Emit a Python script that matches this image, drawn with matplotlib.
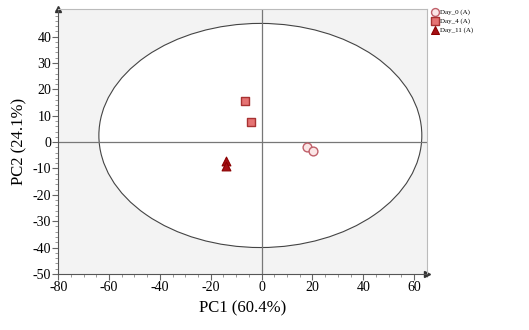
import numpy as np
import matplotlib.pyplot as plt
from matplotlib.patches import Ellipse
from matplotlib.ticker import MultipleLocator

plt.rcParams['font.family'] = ['Liberation Serif', 'DejaVu Serif']
plt.rcParams['axes.unicode_minus'] = False

# PCA scores per sampling day
day0_pc1 = [18.0, 20.4]
day0_pc2 = [-1.9, -3.4]
day4_pc1 = [-6.7, -4.3]
day4_pc2 = [15.6, 7.6]
day11_pc1 = [-14.2, -14.0]
day11_pc2 = [-7.0, -9.2]

labels = ['Day_0 (A)', 'Day_4 (A)', 'Day_11 (A)']

fig = plt.figure(figsize=(5.29, 3.30), dpi=100)
ax = fig.add_axes([0.110, 0.170, 0.697, 0.803])
ax.set_facecolor('#f3f3f3')

# Hotelling T2 ellipse
ell = Ellipse((-0.5, 2.5), 127, 85, facecolor='white', edgecolor='#444444', lw=0.8, zorder=1)
ax.add_patch(ell)
ax.axhline(0, color='#777777', lw=0.9, zorder=2)
ax.axvline(0, color='#777777', lw=0.9, zorder=2)

ax.scatter(day0_pc1, day0_pc2, s=40, marker='o', facecolor='#fbe6e6', edgecolor='#c0606a',
           lw=1.0, zorder=3, label=labels[0])
ax.scatter(day4_pc1, day4_pc2, s=40, marker='s', facecolor='#e57373', edgecolor='#a83232',
           lw=1.0, zorder=3, label=labels[1])
ax.scatter(day11_pc1, day11_pc2, s=40, marker='^', facecolor='#a50f15', edgecolor='#8b0000',
           lw=0.8, zorder=3, label=labels[2])

ax.set_xlim(-80, 65)
ax.set_ylim(-50, 50.5)
ax.set_xticks(np.arange(-80, 61, 20))
ax.set_yticks(np.arange(-50, 41, 10))
ax.xaxis.set_minor_locator(MultipleLocator(5))
ax.yaxis.set_minor_locator(MultipleLocator(2))
ax.tick_params(axis='both', which='major', labelsize=10, length=4, color='#666666', pad=1)
ax.tick_params(axis='both', which='minor', length=2, color='#888888')

for side in ['top', 'right']:
    ax.spines[side].set_color('#bbbbbb')
for side in ['left', 'bottom']:
    ax.spines[side].set_color('#555555')

# axis arrows
ax.plot(1, 0, '>', transform=ax.transAxes, color='#333333', ms=4, clip_on=False)
ax.plot(0, 1, '^', transform=ax.transAxes, color='#333333', ms=4, clip_on=False)

ax.set_xlabel('PC1 (60.4%)', fontsize=12, labelpad=5)
ax.set_ylabel('PC2 (24.1%)', fontsize=12, labelpad=4)

ax.legend(loc='upper left', bbox_to_anchor=(1.0, 1.02), frameon=False, fontsize=5,
          handletextpad=0.2, borderaxespad=0.3, labelspacing=0.4, markerscale=0.9,
          handlelength=1.0)

fig.savefig('out.png', dpi=100)
